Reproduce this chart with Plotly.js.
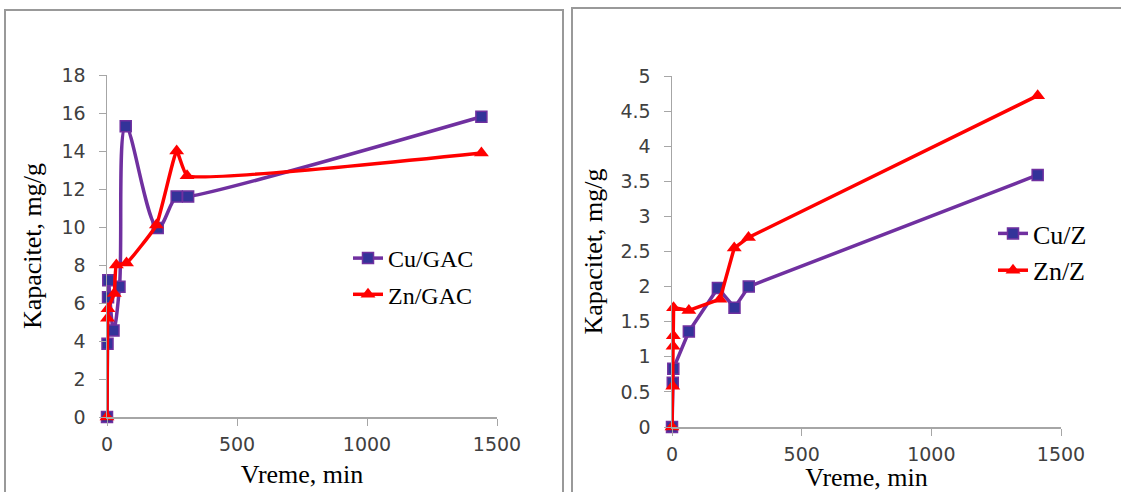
<!DOCTYPE html>
<html>
<head>
<meta charset="utf-8">
<script src="https://cdn.plot.ly/plotly-3.0.1.min.js"></script>
<style>html,body{margin:0;padding:0;background:#fff;}#chart{width:1121px;height:492px;}</style>
</head>
<body>
<div id="chart"></div>
<script>
// ---- Data ----
const cuGacTime = [0, 2, 4, 5, 25, 48, 72, 195, 268, 312, 1440];
const cuGacCap  = [0, 3.85, 6.3, 7.2, 4.55, 6.85, 15.3, 9.95, 11.6, 11.6, 15.8];
const znGacTime = [0, 2, 4, 28, 36, 75, 190, 268, 308, 1440];
const znGacCap  = [0, 5.2, 5.7, 6.5, 8.0, 8.1, 10.1, 14.0, 12.7, 13.9];

const cuZTime = [0, 3, 5, 65, 177, 241, 296, 1410];
const cuZCap  = [0, 0.63, 0.83, 1.36, 1.98, 1.70, 2.0, 3.59];
const znZTime = [0, 3, 4, 5, 6, 65, 185, 240, 295, 1410];
const znZCap  = [0, 0.58, 1.15, 1.3, 1.7, 1.66, 1.82, 2.55, 2.7, 4.72];

const xTickVals = [0, 500, 1000, 1500];
const xTickText = ['0', '500', '1000', '1500'];
const leftYTicks = [0, 2, 4, 6, 8, 10, 12, 14, 16, 18];
const rightYTicks = [0, 0.5, 1, 1.5, 2, 2.5, 3, 3.5, 4, 4.5, 5];
const rightYText = ['0', '0.5', '1', '1.5', '2', '2.5', '3', '3.5', '4', '4.5', '5'];

const xTitle = 'Vreme, min';
const yTitle = 'Kapacitet, mg/g';

// ---- Layout helpers ----
const W = 1121, H = 492;
const px = v => v / W;
const py = v => 1 - v / H;

const cuColor = '#7030A0', cuFill = '#333399', znColor = '#FF0000';
const axisGray = '#A6A6A6';
const tickFont = () => ({family: 'DejaVu Sans', size: 19, color: '#404040'});
const serif = (s) => ({family: 'Liberation Serif', size: s, color: '#000000'});

function cuTrace(x, y, name, xa, ya, leg, shape, sm) {
  return {x: x, y: y, name: name, xaxis: xa, yaxis: ya, legend: leg, legendgroup: name,
    type: 'scatter', mode: 'lines+markers', cliponaxis: false,
    line: {color: cuColor, width: 3.5, shape: shape, smoothing: sm},
    marker: {symbol: 'square', size: 11, color: cuFill, line: {color: cuColor, width: 1.5}}};
}
function znTrace(x, y, name, xa, ya, leg, shape, sm) {
  return {x: x, y: y, name: name, xaxis: xa, yaxis: ya, legend: leg, legendgroup: name,
    type: 'scatter', mode: 'lines+markers', cliponaxis: false,
    line: {color: znColor, width: 3.5, shape: shape, smoothing: sm},
    marker: {symbol: 'triangle-up', size: 13, color: znColor, line: {color: znColor, width: 0}}};
}

const traces = [
  cuTrace(cuGacTime, cuGacCap, 'Cu/GAC', 'x', 'y', 'legend', 'spline', 1),
  znTrace(znGacTime, znGacCap, 'Zn/GAC', 'x', 'y', 'legend', 'spline', 0.35),
  cuTrace(cuZTime, cuZCap, 'Cu/Z', 'x2', 'y2', 'legend2', 'linear', 1),
  znTrace(znZTime, znZCap, 'Zn/Z', 'x2', 'y2', 'legend2', 'linear', 1)
];

function xAxis(domain, anchor, standoff) {
  return {domain: domain, anchor: anchor, range: [0, 1500], tickvals: xTickVals, ticktext: xTickText,
    showline: true, linecolor: axisGray, linewidth: 1.5, ticks: 'outside', ticklen: 7, tickcolor: axisGray,
    ticklabelstandoff: 3,
    showgrid: false, zeroline: false, tickfont: tickFont(), fixedrange: true,
    title: {text: xTitle, font: serif(26), standoff: standoff}, automargin: false};
}
function yAxis(domain, anchor, range, vals, text, standoff) {
  return {domain: domain, anchor: anchor, range: range, tickvals: vals, ticktext: text,
    showline: true, linecolor: axisGray, linewidth: 1.5, ticks: 'outside', ticklen: 7, tickcolor: axisGray,
    ticklabelstandoff: 9,
    showgrid: false, zeroline: false, tickfont: tickFont(), fixedrange: true,
    title: {text: yTitle, font: serif(26), standoff: standoff}, automargin: false};
}

const layout = {
  width: W, height: H,
  margin: {l: 0, r: 0, t: 0, b: 0},
  paper_bgcolor: '#ffffff', plot_bgcolor: 'rgba(0,0,0,0)',
  font: {family: 'Liberation Serif', color: '#000000'},
  showlegend: true,
  xaxis: xAxis([px(107), px(497)], 'y', 10),
  yaxis: yAxis([py(417), py(75)], 'x', [0, 18], leftYTicks, leftYTicks.map(String), 12),
  xaxis2: xAxis([px(672), px(1061)], 'y2', 13),
  yaxis2: yAxis([py(427), py(76)], 'x2', [0, 5], rightYTicks, rightYText, 10),
  legend: {x: px(348), y: py(236), xanchor: 'left', yanchor: 'top', bgcolor: 'rgba(0,0,0,0)',
    font: serif(24), traceorder: 'grouped', tracegroupgap: 2, borderwidth: 0},
  legend2: {x: px(993), y: py(210), xanchor: 'left', yanchor: 'top', bgcolor: 'rgba(0,0,0,0)',
    font: serif(26), traceorder: 'grouped', tracegroupgap: 0, borderwidth: 0},
  shapes: [
    {type: 'rect', xref: 'paper', yref: 'paper', x0: px(5), x1: px(563), y0: -0.05, y1: py(10),
      line: {color: '#999999', width: 2}, fillcolor: 'rgba(0,0,0,0)', layer: 'below'},
    {type: 'rect', xref: 'paper', yref: 'paper', x0: px(572), x1: px(1130), y0: -0.05, y1: py(8),
      line: {color: '#999999', width: 2}, fillcolor: 'rgba(0,0,0,0)', layer: 'below'}
  ]
};

Plotly.newPlot('chart', traces, layout, {displayModeBar: false, staticPlot: true});
</script>
</body>
</html>
